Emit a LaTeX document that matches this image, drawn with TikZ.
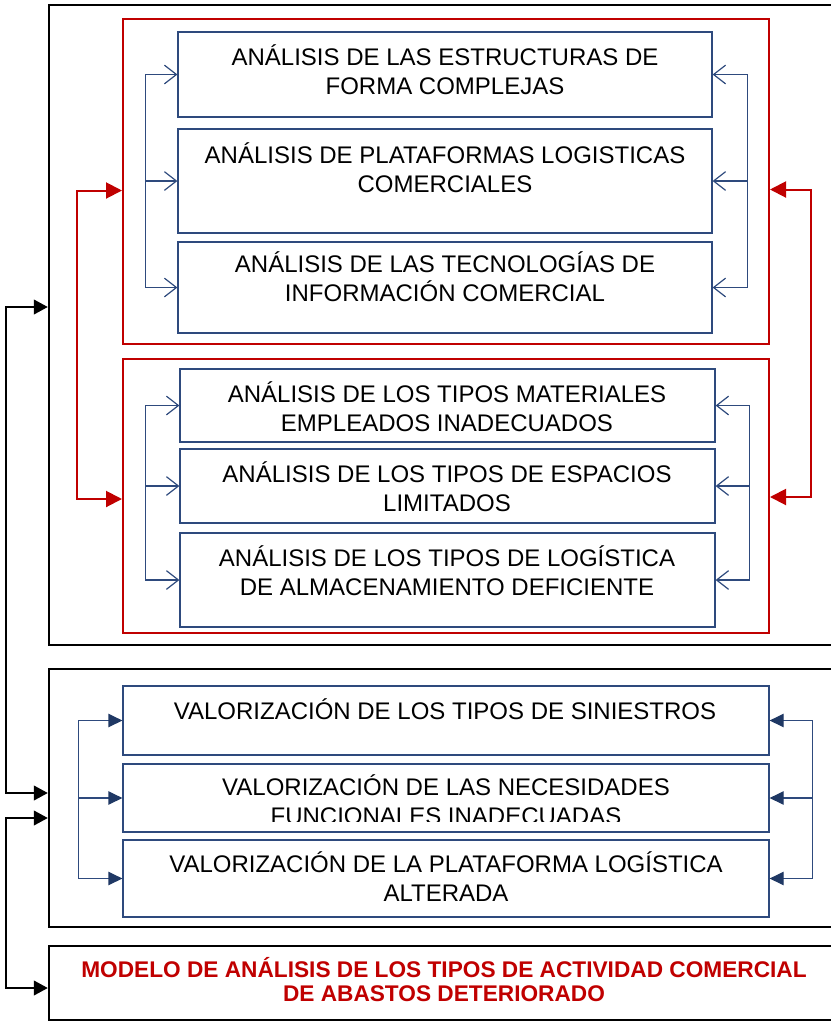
\documentclass[tikz,border=0pt]{standalone}
\usepackage{fontspec}
\setmainfont{Liberation Sans}
\usetikzlibrary{arrows.meta}
\definecolor{marco}{HTML}{2E4A7D}
\definecolor{azul}{HTML}{1F3864}
\definecolor{rojo}{HTML}{C00000}
\newcommand{\pxl}{0.75pt}
\tikzset{
  wh/.style 2 args={minimum width=#1*\pxl, minimum height=#2*\pxl, inner sep=0pt},
  negro/.style={draw=black, line width=1.8pt},
  marcorojo/.style={draw=rojo, line width=1.5pt},
  caja/.style={draw=marco, line width=0.9pt},
  txt/.style={align=center, inner sep=0pt, font=\fontsize{18}{21.75}\selectfont},
  abierta/.tip={Straight Barb[length=9pt,width=14pt,line width=0.9pt]},
  llena/.tip={Triangle[length=10.5pt,width=11pt]},
  llenaazul/.tip={Triangle[length=10.5pt,width=10pt,fill=azul,color=azul]},
  llenaroja/.tip={Triangle[length=12pt,width=12pt]},
  bus/.style={draw=marco, line width=0.9pt},
}
\begin{document}
\begin{tikzpicture}[x=\pxl,y=-\pxl]
\useasboundingbox (0,0) rectangle (831,1022);
\clip (0,0) rectangle (831,1022);
% marcos negros
\node[negro, wh={796}{640}] (o1) at (447,325) {};
\node[negro, wh={796}{258}] (o2) at (447,798) {};
\node[negro, wh={796}{74}] (o3) at (447,983) {};
% marcos rojos
\node[marcorojo, wh={646}{325}] (r1) at (446,181.5) {};
\node[marcorojo, wh={646}{274}] (r2) at (446,496) {};
% cajas del primer grupo
\node[caja, wh={534}{85}] (b1) at (445,74.5) {};
\node[caja, wh={534}{104}] (b2) at (445,181) {};
\node[caja, wh={534}{91}] (b3) at (445,287.5) {};
\node[txt] (t1) at (445,70) {ANÁLISIS DE LAS ESTRUCTURAS DE\\FORMA COMPLEJAS};
\node[txt] (t2) at (445,167.5) {ANÁLISIS DE PLATAFORMAS LOGISTICAS\\COMERCIALES};
\node[txt] (t3) at (445,276.5) {ANÁLISIS DE LAS TECNOLOGÍAS DE\\INFORMACIÓN COMERCIAL};
% cajas del segundo grupo
\node[caja, wh={535}{73}] (b4) at (447.5,405.5) {};
\node[caja, wh={535}{74}] (b5) at (447.5,486) {};
\node[caja, wh={535}{94}] (b6) at (447.5,580) {};
\node[txt] (t4) at (447,407) {ANÁLISIS DE LOS TIPOS MATERIALES\\EMPLEADOS INADECUADOS};
\node[txt] (t5) at (447,487) {ANÁLISIS DE LOS TIPOS DE ESPACIOS\\LIMITADOS};
\node[txt] (t6) at (447,570.5) {ANÁLISIS DE LOS TIPOS DE LOGÍSTICA\\DE ALMACENAMIENTO DEFICIENTE};
% valoracion
\node[caja, wh={646}{69}] (b7) at (446,720.5) {};
\node[caja, wh={646}{68}] (b8) at (446,798) {};
\node[caja, wh={646}{77}] (b9) at (446,878.5) {};
\node[txt] (t7) at (445,709.5) {VALORIZACIÓN DE LOS TIPOS DE SINIESTROS};
\begin{scope}
\clip (b8.north west) rectangle ([yshift=8pt]b8.south east);
\node[txt] (t8) at (446,799.5) {VALORIZACIÓN DE LAS NECESIDADES\\FUNCIONALES INADECUADAS};
\end{scope}
\node[txt] (t9) at (446,877) {VALORIZACIÓN DE LA PLATAFORMA LOGÍSTICA\\ALTERADA};
\node[align=center, inner sep=0pt, text=rojo, font=\fontsize{17}{18}\selectfont\bfseries] (t10) at (444,980)
  {MODELO DE ANÁLISIS DE LOS TIPOS DE ACTIVIDAD COMERCIAL\\DE ABASTOS DETERIORADO};
% flechas abiertas
\draw[bus, abierta-abierta] (b1.west) -- ++(-32,0) |- (b3.west);
\draw[bus, -abierta] ([xshift=-32*\pxl]b2.west) -- (b2.west);
\draw[bus, abierta-abierta] (b1.east) -- ++(35,0) |- (b3.east);
\draw[bus, -abierta] ([xshift=35*\pxl]b2.east) -- (b2.east);
\draw[bus, abierta-abierta] (b4.west) -- ++(-34,0) |- (b6.west);
\draw[bus, -abierta] ([xshift=-34*\pxl]b5.west) -- (b5.west);
\draw[bus, abierta-abierta] (b4.east) -- ++(34,0) |- (b6.east);
\draw[bus, -abierta] ([xshift=34*\pxl]b5.east) -- (b5.east);
% flechas llenas azules
\draw[bus, llenaazul-llenaazul] (b7.west) -- ++(-44,0) |- (b9.west);
\draw[bus, -llenaazul] ([xshift=-44*\pxl]b8.west) -- (b8.west);
\draw[bus, llenaazul-llenaazul] (b7.east) -- ++(43,0) |- (b9.east);
\draw[bus, -llenaazul] ([xshift=43*\pxl]b8.east) -- (b8.east);
% rojas
\draw[draw=rojo, line width=1.5pt, llenaroja-llenaroja] ([yshift=-9*\pxl]r1.west) -- ++(-45,0) |- ([yshift=-3*\pxl]r2.west);
\draw[draw=rojo, line width=1.5pt, llenaroja-llenaroja] ([yshift=-8*\pxl]r1.east) -- ++(41,0) |- ([yshift=-1*\pxl]r2.east);
% negras
\draw[line width=1.5pt, llena-llena] ([yshift=18*\pxl]o1.west) -- ++(-42,0) |- ([yshift=5*\pxl]o2.west);
\draw[line width=1.5pt, llena-llena] ([yshift=-20*\pxl]o2.west) -- ++(-42,0) |- ([yshift=-5*\pxl]o3.west);
\end{tikzpicture}
\end{document}
